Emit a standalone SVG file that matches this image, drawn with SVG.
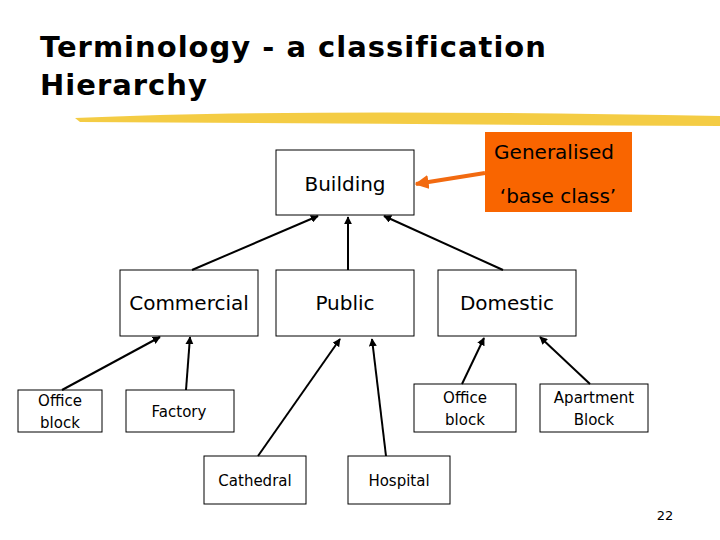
<svg xmlns="http://www.w3.org/2000/svg" width="720" height="540" viewBox="0 0 720 540">
<style>
.b{fill:#fff;stroke:#000;stroke-width:1}
.t{font-family:"DejaVu Sans",sans-serif;fill:#000;text-anchor:middle}
.l{font-size:20px}.s{font-size:15px}
.c line{stroke:#000;stroke-width:2;marker-end:url(#a)}
</style>
<defs>
<marker id="a" viewBox="0 0 10 10" refX="9" refY="5" markerWidth="4" markerHeight="4" orient="auto"><path d="M0,0L10,5L0,10z" fill="#000"/></marker>
<marker id="o" viewBox="0 0 10 10" refX="9" refY="5" markerWidth="3.5" markerHeight="3.5" orient="auto"><path d="M0,0L10,5L0,10z" fill="#f26a10"/></marker>
</defs>
<rect width="720" height="540" fill="#fff"/>
<text x="40" y="57" font-family="DejaVu Sans" font-weight="bold" font-size="29" letter-spacing="1">Terminology - a classification</text>
<text x="40" y="95" font-family="DejaVu Sans" font-weight="bold" font-size="29" letter-spacing="1">Hierarchy</text>
<path d="M75,118 Q300,108 720,116 L720,126 Q400,124 80,122 Z" fill="#f3c730" opacity="0.9"/>
<g id="generalised"><rect x="485" y="132" width="147" height="80" fill="#f96500"/>
<text class="t l" x="554" y="159">Generalised</text><text class="t l" x="558" y="203">‘base class’</text></g>
<g id="building"><rect class="b" x="276" y="150" width="138" height="65"/><text class="t l" x="345" y="191">Building</text></g>
<g id="commercial"><rect class="b" x="120" y="270" width="138" height="66"/><text class="t l" x="189" y="310">Commercial</text></g>
<g id="public"><rect class="b" x="276" y="270" width="138" height="66"/><text class="t l" x="345" y="310">Public</text></g>
<g id="domestic"><rect class="b" x="438" y="270" width="138" height="66"/><text class="t l" x="507" y="310">Domestic</text></g>
<g id="office1"><rect class="b" x="18" y="390" width="84" height="42"/><text class="t s" x="60" y="406">Office</text><text class="t s" x="60" y="428">block</text></g>
<g id="factory"><rect class="b" x="126" y="390" width="108" height="42"/><text class="t s" x="179" y="417">Factory</text></g>
<g id="office2"><rect class="b" x="414" y="384" width="102" height="48"/><text class="t s" x="465" y="403">Office</text><text class="t s" x="465" y="425">block</text></g>
<g id="apartment"><rect class="b" x="540" y="384" width="108" height="48"/><text class="t s" x="594" y="403">Apartment</text><text class="t s" x="594" y="425">Block</text></g>
<g id="cathedral"><rect class="b" x="204" y="456" width="102" height="48"/><text class="t s" x="255" y="486">Cathedral</text></g>
<g id="hospital"><rect class="b" x="348" y="456" width="102" height="48"/><text class="t s" x="399" y="486">Hospital</text></g>
<g class="c">
<line x1="192" y1="270" x2="318" y2="216"/>
<line x1="348" y1="270" x2="348" y2="217"/>
<line x1="503" y1="270" x2="384" y2="216"/>
<line x1="62" y1="390" x2="160" y2="337"/>
<line x1="186" y1="390" x2="190" y2="337"/>
<line x1="258" y1="456" x2="340" y2="339"/>
<line x1="386" y1="456" x2="372" y2="339"/>
<line x1="462" y1="384" x2="484" y2="338"/>
<line x1="590" y1="384" x2="540" y2="337"/>
<line x1="485" y1="173" x2="416" y2="184" style="stroke:#f26a10;stroke-width:4;marker-end:url(#o)"/>
</g>
<text x="665" y="520" font-family="DejaVu Sans" font-size="13" text-anchor="middle">22</text>
</svg>
